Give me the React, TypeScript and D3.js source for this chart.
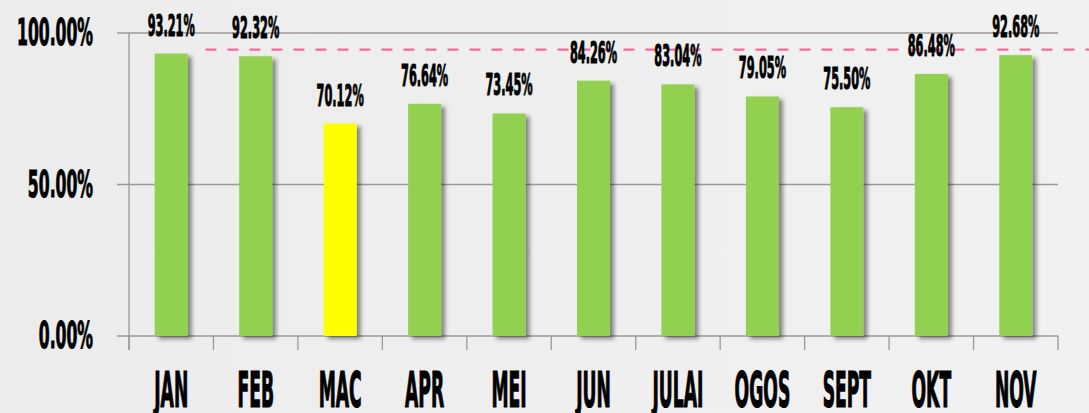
import React from "react";
import * as d3 from "d3";

const categories = ["JAN", "FEB", "MAC", "APR", "MEI", "JUN", "JULAI", "OGOS", "SEPT", "OKT", "NOV"];
const values = [93.21, 92.32, 70.12, 76.64, 73.45, 84.26, 83.04, 79.05, 75.5, 86.48, 92.68];
const highlight = ["MAC"];
const yTicks = [0, 50, 100];
const target = 94.5;

const W = 1089;
const H = 413;
const FONT = "'DejaVu Sans Condensed', 'DejaVu Sans', sans-serif";

export default function App() {
  const left = 129;
  const right = 1058;
  const top = 33;
  const bottom = 336;

  const x = d3.scaleBand<string>().domain(categories).range([left, right]).paddingInner(0).paddingOuter(0);
  const y = d3.scaleLinear().domain([0, 100]).range([bottom, top]);
  const bw = 33;

  return (
    <svg width={W} height={H} style={{ position: "absolute", left: 0, top: 0 }}>
      <defs>
        <filter id="shadow" x="-30%" y="-10%" width="160%" height="130%">
          <feDropShadow dx="4" dy="3" stdDeviation="2.2" floodColor="#000" floodOpacity="0.45" />
        </filter>
        <linearGradient id="bg" x1="0" y1="0" x2="1" y2="0">
          <stop offset="0" stopColor="#ececec" />
          <stop offset="1" stopColor="#f1f1f1" />
        </linearGradient>
      </defs>
      <rect x={0} y={0} width={W} height={H} fill="url(#bg)" />

      {/* gridlines */}
      {yTicks.map((t) => (
        <line key={"g" + t} x1={left - 12} x2={right} y1={y(t)} y2={y(t)} stroke="#999" strokeWidth={1.3} />
      ))}
      {/* y axis */}
      <line x1={left} x2={left} y1={top} y2={bottom + 14} stroke="#999" strokeWidth={1.3} />
      {/* x ticks */}
      {categories.map((c) => (
        <line key={"t" + c} x1={x(c)!} x2={x(c)!} y1={bottom} y2={bottom + 14} stroke="#999" strokeWidth={1.3} />
      ))}
      <line x1={right} x2={right} y1={bottom} y2={bottom + 14} stroke="#999" strokeWidth={1.3} />

      {/* bars */}
      {categories.map((c, i) => {
        const cx = x(c)! + x.bandwidth() / 2;
        return (
          <rect
            key={"b" + c}
            x={cx - bw / 2}
            y={y(values[i])}
            width={bw}
            height={bottom - y(values[i])}
            fill={highlight.includes(c) ? "#ffff00" : "#92d050"}
            filter="url(#shadow)"
          />
        );
      })}

      {/* target line */}
      <line
        x1={x("FEB")! - 8}
        x2={W}
        y1={y(target)}
        y2={y(target)}
        stroke="#f56a9c"
        strokeWidth={2.2}
        strokeDasharray="11 11"
      />

      {/* value labels */}
      {categories.map((c, i) => {
        const cx = x(c)! + x.bandwidth() / 2;
        return (
          <text
            key={"v" + c}
            transform={`translate(${cx},${y(values[i]) - 18}) scale(0.42,1)`}
            textAnchor="middle"
            fontFamily={FONT}
            fontWeight="bold"
            fontSize={30}
            fill="#000"
            stroke="#000"
            strokeWidth={1}
          >
            {values[i].toFixed(2) + "%"}
          </text>
        );
      })}

      {/* y tick labels */}
      {yTicks.map((t) => (
        <text
          key={"yl" + t}
          transform={`translate(93,${y(t) + 12}) scale(0.47,1)`}
          textAnchor="end"
          fontFamily={FONT}
          fontWeight="bold"
          fontSize={37}
          fill="#000"
          stroke="#000"
          strokeWidth={1}
        >
          {t.toFixed(2) + "%"}
        </text>
      ))}

      {/* category labels */}
      {categories.map((c) => {
        const cx = x(c)! + x.bandwidth() / 2;
        return (
          <text
            key={"c" + c}
            transform={`translate(${cx},407) scale(0.39,1)`}
            textAnchor="middle"
            fontFamily={FONT}
            fontWeight="bold"
            fontSize={49}
            fill="#000"
            stroke="#000"
            strokeWidth={1.2}
          >
            {c}
          </text>
        );
      })}
    </svg>
  );
}
